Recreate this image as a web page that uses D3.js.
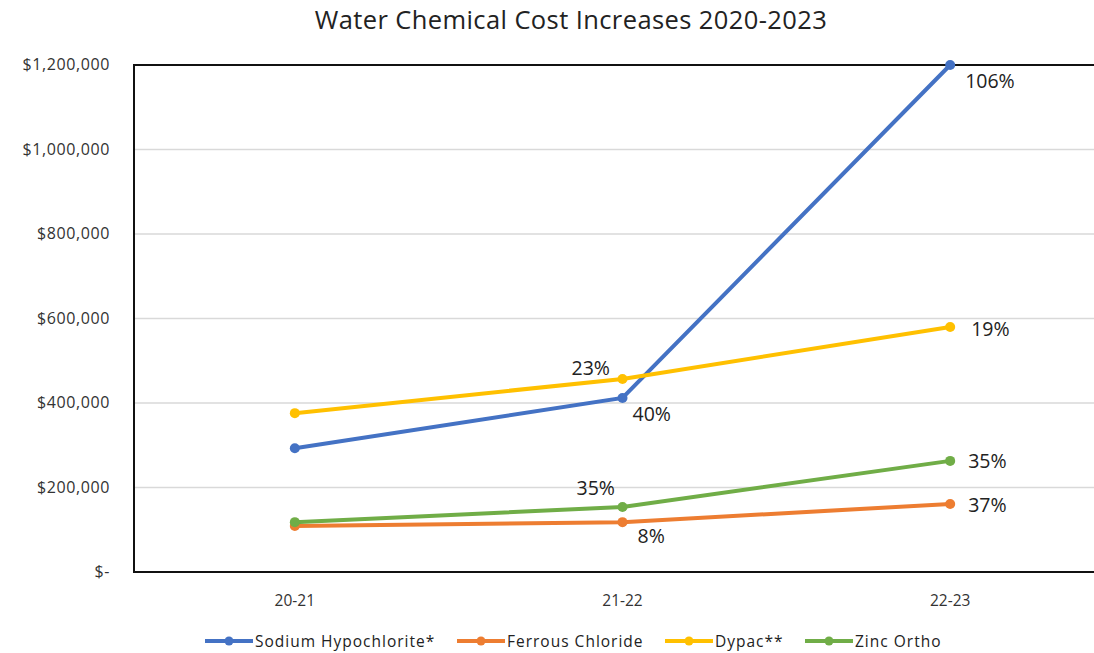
<!DOCTYPE html>
<html>
<head>
<meta charset="utf-8">
<script src="https://cdn.jsdelivr.net/npm/d3@7"></script>
<style>
  body { margin: 0; background: #fff; }
  text { font-family: "Open Sans", Lato, sans-serif; }
</style>
</head>
<body>
<svg id="svg" width="1094" height="653"></svg>
<script>
var categories = ["20-21", "21-22", "22-23"];
var seriesNames = ["Sodium Hypochlorite*", "Ferrous Chloride", "Dypac**", "Zinc Ortho"];
var sodium = [293000, 412000, 1200000];
var ferrous = [109000, 118000, 161000];
var dypac = [376000, 457000, 580000];
var zinc = [118000, 154000, 263000];
var sodiumLabels = [null, "40%", "106%"];
var ferrousLabels = [null, "8%", "37%"];
var dypacLabels = [null, "23%", "19%"];
var zincLabels = [null, "35%", "35%"];
var yTicks = [0, 200000, 400000, 600000, 800000, 1000000, 1200000];

var colors = ["#4472C4", "#ED7D31", "#FFC000", "#70AD47"];
// label offsets per series for the 21-22 and 22-23 points
var offsets = [
  [null, [10, 23], [15, 23]],
  [null, [15, 21], [18, 8]],
  [null, [-51, -4], [21, 9]],
  [null, [-46, -12], [18, 7]]
];

var series = [
  { name: seriesNames[0], values: sodium, labels: sodiumLabels },
  { name: seriesNames[1], values: ferrous, labels: ferrousLabels },
  { name: seriesNames[2], values: dypac, labels: dypacLabels },
  { name: seriesNames[3], values: zinc, labels: zincLabels }
];

var svg = d3.select("#svg");
var pLeft = 134, pTop = 65, pBottom = 572, pRight = 1117;

var x = d3.scalePoint().domain(categories).range([131, 1114]).padding(0.5);
var y = d3.scaleLinear().domain([0, 1200000]).range([pBottom, pTop]);

svg.append("text")
  .attr("x", 571).attr("y", 29)
  .attr("text-anchor", "middle")
  .style("font-size", "25.5px").style("letter-spacing", "0.4px").style("fill", "#222")
  .text("Water Chemical Cost Increases 2020-2023");

// gridlines
svg.append("g").selectAll("line")
  .data(yTicks.slice(1))
  .enter().append("line")
  .attr("x1", pLeft).attr("x2", pRight)
  .attr("y1", function (d) { return y(d); })
  .attr("y2", function (d) { return y(d); })
  .style("stroke", "#d9d9d9").style("stroke-width", 1.5);

// y axis labels
var fmt = d3.format(",");
svg.append("g").selectAll("text")
  .data(yTicks)
  .enter().append("text")
  .attr("x", 110)
  .attr("y", function (d) { return y(d) + 5; })
  .attr("text-anchor", "end")
  .style("font-size", "16px").style("letter-spacing", "0.6px").style("fill", "#333")
  .text(function (d) { return d === 0 ? "$-" : "$" + fmt(d); });

// x axis labels
svg.append("g").selectAll("text")
  .data(categories)
  .enter().append("text")
  .attr("x", function (d) { return x(d); })
  .attr("y", 606)
  .attr("text-anchor", "middle")
  .style("font-size", "15.5px").style("fill", "#333")
  .text(function (d) { return d; });

// frame
svg.append("rect")
  .attr("x", pLeft).attr("y", pTop)
  .attr("width", pRight - pLeft).attr("height", pBottom - pTop)
  .style("fill", "none").style("stroke", "#111").style("stroke-width", 2);

var line = d3.line()
  .x(function (d, i) { return x(categories[i]); })
  .y(function (d) { return y(d); });

var g = svg.append("g").selectAll("g")
  .data(series)
  .enter().append("g");

g.append("path")
  .attr("d", function (s) { return line(s.values); })
  .style("fill", "none")
  .style("stroke", function (s, i) { return colors[i]; })
  .style("stroke-width", 4);

g.each(function (s, si) {
  var grp = d3.select(this);
  grp.selectAll("circle")
    .data(s.values)
    .enter().append("circle")
    .attr("cx", function (d, i) { return x(categories[i]); })
    .attr("cy", function (d) { return y(d); })
    .attr("r", 5)
    .style("fill", colors[si]);
  var lbls = s.labels.map(function (t, i) { return { t: t, i: i }; })
    .filter(function (d) { return d.t !== null; });
  grp.selectAll("text")
    .data(lbls)
    .enter().append("text")
    .attr("x", function (d) { return x(categories[d.i]) + offsets[si][d.i][0]; })
    .attr("y", function (d) { return y(s.values[d.i]) + offsets[si][d.i][1]; })
    .style("font-size", "19.5px").style("fill", "#222")
    .text(function (d) { return d.t; });
});

// legend
var legendX = [205, 457, 665, 805];
var leg = svg.append("g").selectAll("g")
  .data(series)
  .enter().append("g")
  .attr("transform", function (d, i) { return "translate(" + legendX[i] + ",641)"; });
leg.append("line")
  .attr("x1", 0).attr("x2", 48)
  .style("stroke", function (d, i) { return colors[i]; })
  .style("stroke-width", 4);
leg.append("circle")
  .attr("cx", 24).attr("r", 4.5)
  .style("fill", function (d, i) { return colors[i]; });
leg.append("text")
  .attr("x", 50).attr("y", 5.5)
  .style("font-size", "15.5px").style("letter-spacing", "1px").style("fill", "#222")
  .text(function (d) { return d.name; });
</script>
</body>
</html>
